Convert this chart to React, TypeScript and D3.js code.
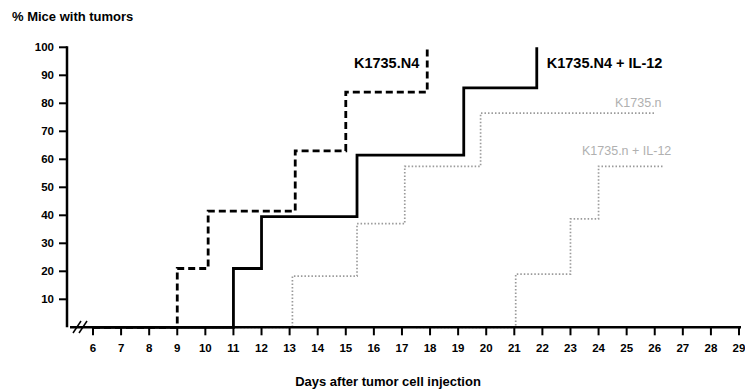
import React from 'react';
import * as d3 from 'd3';

// x / y axis ticks
const xTicks = [6, 7, 8, 9, 10, 11, 12, 13, 14, 15, 16, 17, 18, 19, 20, 21, 22, 23, 24, 25, 26, 27, 28, 29];
const yTicks = [10, 20, 30, 40, 50, 60, 70, 80, 90, 100];

// step points: day where % changes, and the new %
const n4Days = [6, 9, 10.1, 13.2, 15, 17.9];
const n4Pct = [0, 21, 41.5, 63, 84, 100];

const n4Il12Days = [6, 11, 12, 15.4, 19.2, 21.8];
const n4Il12Pct = [0, 21, 39.5, 61.5, 85.5, 100];

const nDays = [8, 13.1, 15.4, 17.1, 19.8, 26.0];
const nPct = [0, 18.3, 37, 57.5, 76.5, 76.5];

const nIl12Days = [17.5, 21.05, 23.0, 24.0, 26.3];
const nIl12Pct = [0, 19, 38.7, 57.5, 57.5];

const W = 745;
const H = 390;
const font = '"Liberation Sans", Arial, Helvetica, sans-serif';

const App = () => {
  const x = d3.scaleLinear().domain([6, 29]).range([93, 739]);
  const y = d3.scaleLinear().domain([0, 100]).range([327.3, 47.3]);

  const line = d3.line<[number, number]>()
    .x(d => x(d[0]))
    .y(d => y(d[1]))
    .curve(d3.curveStepAfter);

  const pts = (days: number[], pct: number[]) => days.map((d, i) => [d, pct[i]] as [number, number]);

  const axisY0 = y(0);

  return (
    <svg width={W} height={H} style={{ position: 'absolute', left: 0, top: 0, background: '#fff' }} fontFamily={font}>
      <rect width={W} height={H} fill="#fff" />
      <text x={12} y={21} fontSize={13} fontWeight="bold">% Mice with tumors</text>

      {/* gray dotted series */}
      <path d={line(pts(nDays, nPct)) || ''} fill="none" stroke="#9a9a9a" strokeWidth={1.7} strokeDasharray="1.5,2" />
      <path d={line(pts(nIl12Days, nIl12Pct)) || ''} fill="none" stroke="#9a9a9a" strokeWidth={1.7} strokeDasharray="1.5,2" />

      {/* black series */}
      <path d={line(pts(n4Days, n4Pct)) || ''} fill="none" stroke="#000" strokeWidth={2.8} strokeDasharray="7,4" />
      <path d={line(pts(n4Il12Days, n4Il12Pct)) || ''} fill="none" stroke="#000" strokeWidth={2.8} />

      {/* y axis */}
      <line x1={67} x2={67} y1={y(100) - 1} y2={axisY0} stroke="#000" strokeWidth={2.5} />
      {yTicks.map(t => (
        <g key={t}>
          <line x1={59} x2={67} y1={y(t)} y2={y(t)} stroke="#000" strokeWidth={2} />
          <text x={54} y={y(t)} dy="0.35em" textAnchor="end" fontSize={11.5} fontWeight="bold">{t}</text>
        </g>
      ))}

      {/* x axis */}
      <line x1={70} x2={741} y1={axisY0} y2={axisY0} stroke="#000" strokeWidth={2.5} />
      <line x1={73} x2={81} y1={333} y2={321} stroke="#000" strokeWidth={1.5} />
      <line x1={79} x2={87} y1={333} y2={321} stroke="#000" strokeWidth={1.5} />
      {xTicks.map(t => (
        <g key={t}>
          <line x1={x(t)} x2={x(t)} y1={axisY0} y2={axisY0 + 8} stroke="#000" strokeWidth={2} />
          <text x={x(t)} y={352} textAnchor="middle" fontSize={11.5} fontWeight="bold">{t}</text>
        </g>
      ))}
      <text x={388} y={386} textAnchor="middle" fontSize={13} fontWeight="bold">Days after tumor cell injection</text>

      {/* series labels */}
      <text x={x(17.9) - 8} y={68} textAnchor="end" fontSize={14.5} fontWeight="bold">K1735.N4</text>
      <text x={x(21.8) + 10} y={68} fontSize={14.5} fontWeight="bold">K1735.N4 + IL-12</text>
      <text x={615} y={107} fontSize={12.5} fill="#b0b0b0">K1735.n</text>
      <text x={582} y={155} fontSize={12.5} fill="#b0b0b0">K1735.n + IL-12</text>
    </svg>
  );
};

export default App;
